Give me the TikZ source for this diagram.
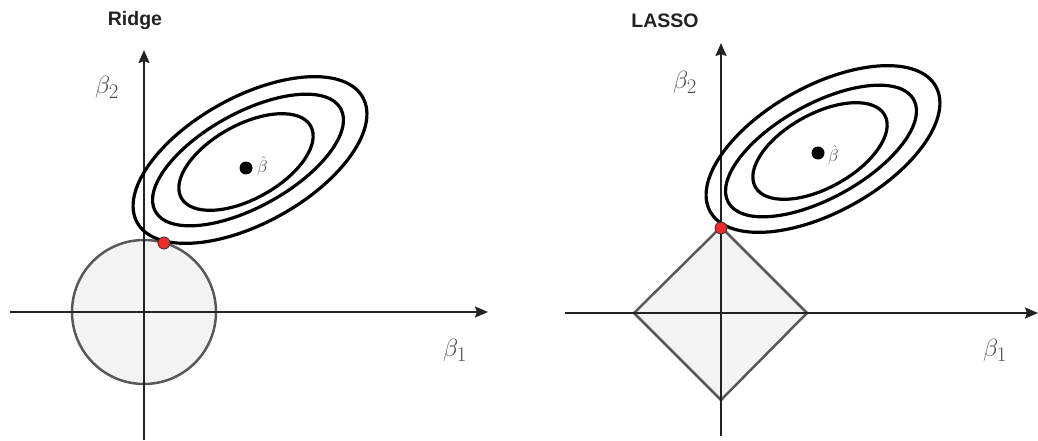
\documentclass[tikz,border=0pt]{standalone}
\usepackage{fontspec}
\setsansfont{Liberation Sans}
\usetikzlibrary{arrows.meta}
\definecolor{axisc}{HTML}{222222}
\definecolor{regionfill}{HTML}{F4F4F4}
\definecolor{regionline}{HTML}{595959}
\definecolor{labelc}{HTML}{4A4A4A}
\definecolor{redpt}{HTML}{EE2A2A}
\tikzset{
  axisline/.style={draw=axisc, line width=2pt, -{Stealth[length=13pt,width=11pt,inset=2pt]}},
  region/.style={fill=regionfill, draw=regionline, line width=2.5pt},
  contour/.style={draw=black, line width=3.2pt},
  optdot/.style={circle, fill=black, inner sep=0pt, minimum size=13pt},
  touchdot/.style={circle, fill=redpt, draw=black!80, line width=0.8pt, inner sep=0pt, minimum size=12pt},
  axlabel/.style={text=labelc, font=\fontsize{31}{36}\selectfont, inner sep=0pt},
  hatlabel/.style={text=labelc, font=\fontsize{16}{19}\selectfont, inner sep=0pt},
  paneltitle/.style={text=axisc, font=\sffamily\bfseries\fontsize{19.5}{23}\selectfont, inner sep=0pt}
}
\begin{document}
\begin{tikzpicture}[x=1pt,y=-1pt]
\useasboundingbox (0,0) rectangle (1038,441);
% ---------------- Ridge ----------------
\coordinate (rO) at (144,312);
\coordinate (rL) at (10,312);
\coordinate (rR) at (488,312);
\coordinate (rB) at (144,440);
\coordinate (rT) at (144,50);
\draw[region] (rO) circle[radius=72];
\draw[axisline] (rL) -- (rR);
\draw[axisline] (rB) -- (rT);
\draw[contour, rotate around={29:(250,160)}] (250,160) ellipse[x radius=129, y radius=63];
\draw[contour, rotate around={29:(248,160)}] (248,160) ellipse[x radius=106, y radius=47];
\draw[contour, rotate around={29:(246,162)}] (246,162) ellipse[x radius=74, y radius=37];
\node[optdot] (rbh) at (246,168) {};
\node[hatlabel, anchor=west] (rbhl) at (257,166) {$\hat\beta$};
\node[touchdot] (rtp) at (164,243) {};
\node[axlabel] (rb2) at (107,87) {$\beta_2$};
\node[axlabel] (rb1) at (455,350) {$\beta_1$};
\node[paneltitle] (rtitle) at (135,21) {Ridge};
% ---------------- LASSO ----------------
\coordinate (lO) at (721,313);
\coordinate (lL) at (565,313);
\coordinate (lR) at (1038,313);
\coordinate (lB) at (721,436);
\coordinate (lT) at (721,43);
\draw[region] (634,313) -- (721,227) -- (807,313) -- (721,400) -- cycle;
\draw[axisline] (lL) -- (lR);
\draw[axisline] (lB) -- (lT);
\draw[contour, rotate around={29:(823,149)}] (823,149) ellipse[x radius=129, y radius=63];
\draw[contour, rotate around={29:(821,151)}] (821,151) ellipse[x radius=106, y radius=47];
\draw[contour, rotate around={29:(820,151)}] (820,151) ellipse[x radius=74, y radius=37];
\node[optdot] (lbh) at (818,153) {};
\node[hatlabel, anchor=west] (lbhl) at (828,155) {$\hat\beta$};
\node[touchdot] (ltp) at (721,228) {};
\node[axlabel] (lb2) at (685,82) {$\beta_2$};
\node[axlabel] (lb1) at (995,350) {$\beta_1$};
\node[paneltitle] (ltitle) at (665,21) {LASSO};
\end{tikzpicture}
\end{document}
